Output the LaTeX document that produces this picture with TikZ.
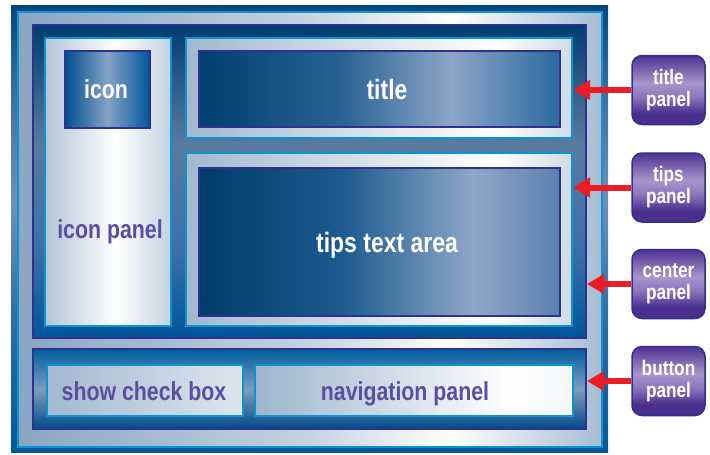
\documentclass[tikz,border=0pt]{standalone}
\usepackage{fontspec}
\newfontfamily\panelfont[FakeStretch=0.82]{Liberation Sans}
\usetikzlibrary{arrows.meta}

\definecolor{cyanline}{HTML}{0A94D0}
\definecolor{indigoline}{HTML}{2E3192}
\definecolor{paneltext}{HTML}{5A4EA0}
\definecolor{arrowred}{HTML}{ED1C24}
% frame colours
\definecolor{frA}{HTML}{00589A}\definecolor{frB}{HTML}{2F6EA6}
\definecolor{frC}{HTML}{6F90B6}\definecolor{frD}{HTML}{3F70A0}
\definecolor{frE}{HTML}{00477F}
\definecolor{ltA}{HTML}{8AA6C3}\definecolor{ltB}{HTML}{C5D3E1}
\definecolor{ltC}{HTML}{A6BCD3}
\definecolor{cpA}{HTML}{00559A}\definecolor{cpB}{HTML}{3A70A8}
\definecolor{cpC}{HTML}{5A7BA0}\definecolor{cpD}{HTML}{003D72}
\definecolor{bpA}{HTML}{004A88}\definecolor{bpB}{HTML}{7F9CBF}
\definecolor{bpC}{HTML}{005EA0}
\definecolor{ipA}{HTML}{B3C5D7}\definecolor{ipB}{HTML}{C3D2E1}
\definecolor{tpA}{HTML}{A2B8CF}\definecolor{tpB}{HTML}{CFDBE7}
\definecolor{ibA}{HTML}{00508F}\definecolor{ibB}{HTML}{86A2C4}
\definecolor{ibC}{HTML}{0056A0}
\definecolor{tbA}{HTML}{003F6F}\definecolor{tbB}{HTML}{2A6395}
\definecolor{tbC}{HTML}{8CA5C6}\definecolor{tbD}{HTML}{2B69A1}
\definecolor{taA}{HTML}{003C6A}\definecolor{taB}{HTML}{1D5B8F}
\definecolor{taC}{HTML}{8FA8C8}\definecolor{taD}{HTML}{5A80B0}
\definecolor{scA}{HTML}{A3B9CF}\definecolor{scB}{HTML}{DDE6EF}
\definecolor{npA}{HTML}{9DB5CC}\definecolor{npB}{HTML}{F4F7FA}
\definecolor{coA}{HTML}{4A2E8E}\definecolor{coB}{HTML}{8A76BB}
\definecolor{coC}{HTML}{A795CB}\definecolor{coD}{HTML}{4F3291}

\pgfdeclareverticalshading{frameshade}{100bp}{color(0bp)=(frA); color(25bp)=(frA);
  color(40bp)=(frB); color(53bp)=(frC); color(65bp)=(frD); color(75bp)=(frE); color(100bp)=(frE)}
\pgfdeclarehorizontalshading{bandshade}{100bp}{color(0bp)=(ltA); color(25bp)=(ltA);
  color(50bp)=(ltB); color(62bp)=(white); color(75bp)=(ltC); color(100bp)=(ltC)}
\pgfdeclareverticalshading{centershade}{100bp}{color(0bp)=(cpA); color(25bp)=(cpA);
  color(39bp)=(cpB); color(56bp)=(cpC); color(75bp)=(cpD); color(100bp)=(cpD)}
\pgfdeclareverticalshading{buttonshade}{100bp}{color(0bp)=(bpA); color(25bp)=(bpA);
  color(50bp)=(bpB); color(75bp)=(bpC); color(100bp)=(bpC)}
\pgfdeclarehorizontalshading{iconpanelshade}{100bp}{color(0bp)=(ipA); color(25bp)=(ipA);
  color(53bp)=(white); color(75bp)=(ipB); color(100bp)=(ipB)}
\pgfdeclarehorizontalshading{panelshade}{100bp}{color(0bp)=(tpA); color(25bp)=(tpA);
  color(65bp)=(white); color(75bp)=(tpB); color(100bp)=(tpB)}
\pgfdeclarehorizontalshading{iconshade}{100bp}{color(0bp)=(ibA); color(25bp)=(ibA);
  color(50bp)=(ibB); color(75bp)=(ibC); color(100bp)=(ibC)}
\pgfdeclarehorizontalshading{titleshade}{100bp}{color(0bp)=(tbA); color(25bp)=(tbA);
  color(45bp)=(tbB); color(60bp)=(tbC); color(75bp)=(tbD); color(100bp)=(tbD)}
\pgfdeclarehorizontalshading{tipsshade}{100bp}{color(0bp)=(taA); color(25bp)=(taA);
  color(45bp)=(taB); color(63bp)=(taC); color(75bp)=(taD); color(100bp)=(taD)}
\pgfdeclarehorizontalshading{checkshade}{100bp}{color(0bp)=(scA); color(25bp)=(scA);
  color(75bp)=(scB); color(100bp)=(scB)}
\pgfdeclarehorizontalshading{navshade}{100bp}{color(0bp)=(npA); color(25bp)=(npA);
  color(65bp)=(white); color(75bp)=(npB); color(100bp)=(npB)}
\pgfdeclareverticalshading{calloutshade}{100bp}{color(0bp)=(coA); color(33bp)=(coA);
  color(45bp)=(coB); color(55bp)=(coC); color(75bp)=(coD); color(100bp)=(coD)}

\tikzset{
  darkpanel/.style={draw=indigoline, line width=2pt, inner sep=0pt},
  lightpanel/.style={draw=cyanline, line width=2pt, inner sep=0pt},
  bigtext/.style={font=\panelfont\bfseries\fontsize{#1}{28}\selectfont, inner sep=0pt, anchor=base},
  bigtext/.default=26,
  callout/.style={draw=indigoline, line width=1.5pt, rounded corners=10pt,
    shading=calloutshade, minimum width=73pt, minimum height=69pt, inner sep=0pt,
    align=center, text=white, font=\panelfont\bfseries\fontsize{21}{22}\selectfont},
  pointer/.style={-{Triangle[length=17pt,width=19pt]}, arrowred, line width=6pt}
}

\begin{document}
\begin{tikzpicture}[x=1pt, y=-1pt]
  \useasboundingbox (0,0) rectangle (710,455);
  \node[shading=frameshade, minimum width=597pt, minimum height=447pt, inner sep=0pt] (frame) at (309.5,228.5) {};
  \node[lightpanel, shading=bandshade, minimum width=584pt, minimum height=435pt] (band) at (310,229.5) {};
  \node[darkpanel, shading=centershade, minimum width=553pt, minimum height=313pt] (centerpanel) at (309.5,181.5) {};
  \node[darkpanel, shading=buttonshade, minimum width=553pt, minimum height=80pt] (buttonpanel) at (309.5,389) {};

  \node[lightpanel, shading=iconpanelshade, minimum width=126pt, minimum height=288pt] (iconpanel) at (108,182) {};
  \node[darkpanel, shading=iconshade, minimum width=85pt, minimum height=77pt] (iconbox) at (107.5,89.5) {};
  \node[bigtext, text=white] (icontext) at (106,98) {icon};
  \node[bigtext, text=paneltext] (iconpaneltext) at (110,238) {icon panel};

  \node[lightpanel, shading=panelshade, minimum width=386pt, minimum height=100pt] (titlepanel) at (379,88) {};
  \node[darkpanel, shading=titleshade, minimum width=361pt, minimum height=76pt] (titlebox) at (379.5,89) {};
  \node[bigtext=28, text=white] (titletext) at (387,99) {title};

  \node[lightpanel, shading=panelshade, minimum width=386pt, minimum height=173pt] (tipspanel) at (379,239.5) {};
  \node[darkpanel, shading=tipsshade, minimum width=361pt, minimum height=148pt] (tipsbox) at (379.5,242) {};
  \node[bigtext=28, text=white] (tipstext) at (387,252) {tips text area};

  \node[lightpanel, shading=checkshade, minimum width=196pt, minimum height=51pt] (checkbox) at (145,390.5) {};
  \node[bigtext, text=paneltext] (checktext) at (144,400) {show check box};
  \node[lightpanel, shading=navshade, minimum width=318pt, minimum height=51pt] (navpanel) at (414,390.5) {};
  \node[bigtext, text=paneltext] (navtext) at (405,400) {navigation panel};

  \node[callout] (titlecall) at (668.5,90) {title\\panel};
  \node[callout] (tipscall) at (668.5,187.5) {tips\\panel};
  \node[callout] (centercall) at (668.5,284) {center\\panel};
  \node[callout] (buttoncall) at (668.5,381) {button\\panel};

  \draw[pointer] (titlecall.west) -- (titlecall.west -| titlepanel.east);
  \draw[pointer] (tipscall.west) -- (tipscall.west -| tipspanel.east);
  \draw[pointer] (centercall.west) -- (centercall.west -| centerpanel.east);
  \draw[pointer] (buttoncall.west) -- (buttoncall.west -| buttonpanel.east);
\end{tikzpicture}
\end{document}
